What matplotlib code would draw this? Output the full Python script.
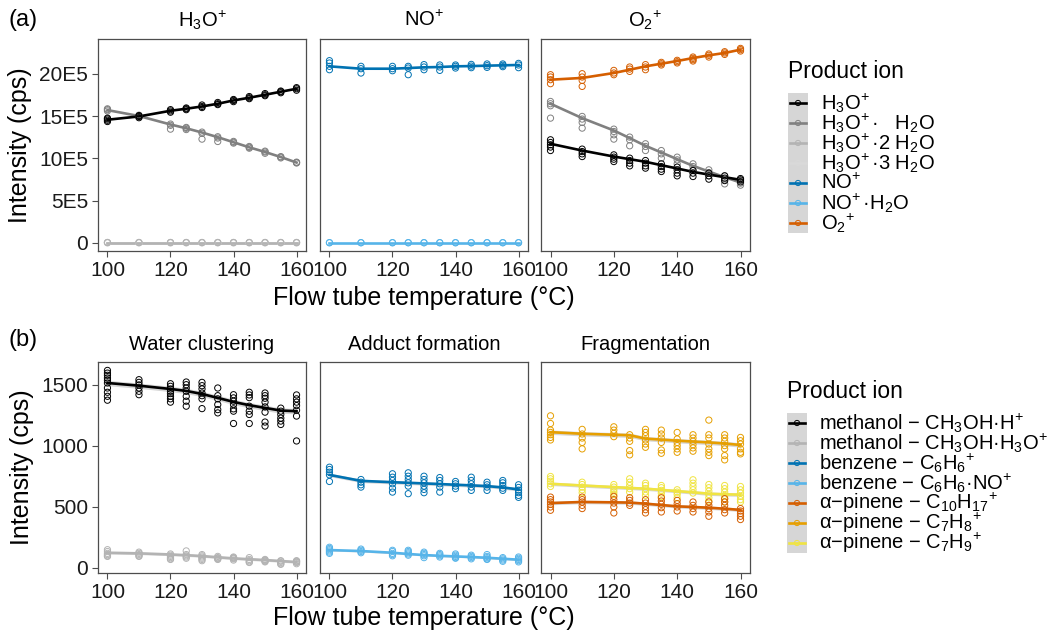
import matplotlib
matplotlib.use("Agg")
import matplotlib.pyplot as plt
from matplotlib.patches import Rectangle

plt.rcParams['font.family'] = ['Liberation Sans', 'DejaVu Sans']
plt.rcParams['mathtext.fontset'] = 'custom'
plt.rcParams['mathtext.rm'] = 'Liberation Sans'
plt.rcParams['mathtext.it'] = 'Liberation Sans:italic'
plt.rcParams['mathtext.bf'] = 'Liberation Sans:bold'

# flow tube temperatures (degC)
temps = [100, 110, 120, 125, 130, 135, 140, 145, 150, 155, 160]

# ---- (a) reagent ions, intensity in units of 1E5 cps ----
# H3O+ panel
a_h3o_pts = [[14.35, 14.5, 14.65, 14.75], [14.8, 14.95, 15.05], [15.45, 15.6, 15.75],
             [15.75, 15.86, 15.95], [16.0, 16.13, 16.3], [16.35, 16.45, 16.6],
             [16.7, 16.84, 16.95], [17.05, 17.16, 17.3], [17.4, 17.51, 17.65],
             [17.75, 17.87, 17.95], [18.05, 18.22, 18.35]]
a_h3o_fit = [14.56, 14.95, 15.62, 15.86, 16.13, 16.45, 16.84, 17.16, 17.51, 17.87, 18.22]
a_h3o1_pts = [[15.6, 15.75, 15.85], [14.9, 15.0, 15.1], [13.45, 13.9, 14.05],
              [13.4, 13.55, 13.65], [12.27, 12.95, 13.1], [11.99, 12.4, 12.55],
              [11.8, 11.9, 12.0], [11.2, 11.3, 11.4], [10.6, 10.75, 10.85],
              [10.05, 10.15, 10.2], [9.45, 9.5, 9.55]]
a_h3o1_fit = [15.7, 15.0, 14.0, 13.55, 13.05, 12.5, 11.9, 11.3, 10.75, 10.15, 9.5]
a_h3o2_pts = [[0.05, 0.06]] * 11
a_h3o2_fit = [0.05] * 11
a_h3o3_pts = [[0.01, 0.02]] * 11
a_h3o3_fit = [0.01] * 11

# NO+ panel
a_no_pts = [[21.54, 21.26, 20.87, 20.47], [20.87, 20.59, 20.08], [20.87, 20.59, 20.35],
            [20.87, 20.67, 19.88], [21.07, 20.79, 20.47], [21.03, 20.79, 20.39],
            [21.03, 20.87, 20.67], [21.1, 20.9, 20.71], [21.15, 20.95, 20.75],
            [21.15, 20.99, 20.83], [21.22, 21.03, 20.71]]
a_no_fit = [20.87, 20.59, 20.59, 20.67, 20.75, 20.79, 20.87, 20.9, 20.95, 20.99, 21.03]
a_noh2o_pts = [[0.02, 0.04]] * 11
a_noh2o_fit = [0.03] * 11

# O2+ panel
a_o2_pts = [[19.88, 19.61, 19.29, 18.82], [20.0, 19.61, 19.21, 18.5], [20.39, 20.08, 19.88],
            [20.79, 20.55, 20.27], [21.07, 20.79, 20.47], [21.34, 21.18, 21.03],
            [21.58, 21.42, 21.27], [21.97, 21.81, 21.66, 21.5], [22.33, 22.17, 21.97],
            [22.6, 22.45, 22.28], [22.99, 22.84, 22.68]]
a_o2_fit = [19.29, 19.5, 20.08, 20.47, 20.87, 21.18, 21.5, 21.85, 22.17, 22.45, 22.84]
a_o2_h3o1_pts = [[16.72, 16.45, 16.21, 14.75], [14.95, 14.64, 14.24, 13.57],
                 [13.45, 13.17, 12.78, 12.27], [12.51, 12.19, 11.48], [11.72, 11.4, 10.92],
                 [10.92, 10.53, 10.02], [10.14, 9.82, 9.35], [9.35, 9.03, 8.56],
                 [8.64, 8.32, 7.93], [7.93, 7.46, 6.98], [7.37, 7.07, 6.83]]
a_o2_h3o1_fit = [16.45, 14.75, 13.29, 12.39, 11.48, 10.69, 9.9, 9.11, 8.44, 7.77, 7.14]
a_o2_h3o_pts = [[12.19, 11.87, 11.6, 11.33, 10.92], [11.09, 10.8, 10.53, 10.21],
                [10.41, 10.14, 9.9, 9.62], [10.02, 9.74, 9.43, 9.11], [9.74, 9.43, 9.11, 8.84],
                [9.35, 9.03, 8.72, 8.44], [8.96, 8.64, 8.25, 7.93], [8.56, 8.25, 7.85],
                [8.25, 7.93, 7.54], [7.93, 7.66, 7.37], [7.61, 7.46, 7.22]]
a_o2_h3o_fit = [11.72, 10.92, 10.21, 9.9, 9.59, 9.19, 8.8, 8.4, 8.08, 7.77, 7.46]

# ---- (b) product ions, intensity in cps ----
b_meoh_pts = [[1619, 1597, 1579, 1557, 1538, 1516, 1475, 1440, 1407, 1375],
              [1543, 1521, 1500, 1475, 1448, 1420],
              [1510, 1489, 1467, 1448, 1429, 1407, 1386, 1359],
              [1524, 1502, 1475, 1448, 1407, 1367, 1326],
              [1521, 1494, 1467, 1434, 1412, 1386, 1306],
              [1475, 1412, 1386, 1339, 1298, 1271],
              [1420, 1394, 1367, 1339, 1304, 1285, 1184],
              [1440, 1418, 1396, 1326, 1285, 1258, 1184],
              [1434, 1412, 1391, 1359, 1320, 1277, 1196, 1163],
              [1310, 1285, 1258, 1228, 1204, 1176],
              [1418, 1386, 1359, 1331, 1293, 1245, 1041]]
b_meoh_fit = [1516, 1494, 1467, 1451, 1426, 1394, 1361, 1334, 1312, 1290, 1285]
b_meoh2_pts = [[150, 135, 120, 110, 100, 95], [130, 120, 110, 100, 95],
               [115, 105, 95, 85, 75, 70], [140, 110, 100, 90, 80],
               [110, 100, 90, 80, 70, 60], [95, 85, 80, 75, 70], [90, 85, 80, 75, 65],
               [85, 70, 60, 50, 45], [70, 65, 60, 55, 50], [60, 55, 45, 35, 30],
               [60, 55, 50, 45, 35]]
b_meoh2_fit = [125, 120, 111, 105, 98, 88, 79, 72, 65, 57, 49]

b_bz_pts = [[826, 807, 785, 763, 709], [725, 703, 682, 663],
            [772, 744, 717, 690, 654, 622], [780, 752, 725, 698, 671, 609],
            [752, 725, 698, 671, 644, 617], [741, 717, 690, 663, 622],
            [709, 690, 671, 650], [744, 717, 690, 663, 636], [703, 682, 663, 636],
            [717, 698, 676, 654, 636], [682, 660, 638, 617, 595, 579]]
b_bz_fit = [763, 714, 703, 698, 693, 688, 682, 677, 671, 660, 644]
b_bzno_pts = [[170, 160, 150, 140, 130, 120], [155, 145, 135, 125],
              [145, 135, 120, 110, 100], [145, 135, 125, 115, 105],
              [130, 120, 110, 100, 85], [120, 110, 100, 90], [115, 105, 95, 85, 80],
              [105, 95, 85, 75], [110, 95, 85, 75, 70], [85, 75, 65, 55],
              [90, 80, 70, 60, 50]]
b_bzno_fit = [147, 139, 125, 115, 106, 100, 95, 90, 84, 76, 68]

b_c10_pts = [[581, 560, 541, 522, 500, 473], [581, 560, 541, 513, 487],
             [587, 560, 532, 500, 451], [576, 554, 532, 513],
             [560, 532, 505, 478, 451], [576, 549, 522, 494, 459],
             [554, 527, 500, 467], [541, 513, 487, 459], [541, 513, 487, 459, 424],
             [568, 541, 513, 478, 451], [487, 467, 446, 424, 397]]
b_c10_fit = [532, 541, 538, 536, 527, 516, 505, 500, 494, 486, 476]
b_c7h8_pts = [[1247, 1184, 1130, 1111, 1092, 1070, 1049], [1136, 1098, 1065, 1029, 976],
              [1157, 1130, 1103, 1076], [1092, 1065, 1038, 962, 927],
              [1136, 1111, 1084, 1049, 1016, 989], [1130, 1098, 1065, 1029, 967, 940],
              [1111, 1057, 1029, 1003, 976, 948], [1092, 1065, 1038, 1011, 984, 957],
              [1212, 1092, 1065, 1016, 976, 948, 921],
              [1092, 1065, 1038, 1003, 976, 921, 886],
              [1070, 1043, 1016, 976, 948, 935]]
b_c7h8_fit = [1113, 1100, 1092, 1088, 1060, 1052, 1043, 1036, 1029, 1020, 1008]
b_c7h9_pts = [[750, 731, 711, 690, 668], [703, 684, 663, 641, 617],
              [684, 663, 641, 622, 603], [731, 703, 676, 650, 622],
              [695, 676, 650, 622, 595], [676, 658, 636, 614, 587],
              [641, 622, 603, 576], [723, 695, 668, 641, 614],
              [684, 658, 630, 603, 576, 549], [676, 650, 622, 595, 568, 541],
              [668, 641, 614, 587, 560, 541]]
b_c7h9_fit = [690, 676, 663, 656, 650, 640, 630, 620, 609, 604, 601]

# ribbon half-widths of the smooths in (b)
b_band = {'meoh': 22, 'meoh2': 10, 'bz': 14, 'bzno': 8, 'c10': 14, 'c7h8': 18, 'c7h9': 14}

col = {'black': '#000000', 'grey50': '#808080', 'grey70': '#b3b3b3', 'grey85': '#d9d9d9',
       'blue': '#0072B2', 'sky': '#56B4E9', 'verm': '#D55E00', 'orange': '#E69F00',
       'yellow': '#F0E442'}

# chemical formula labels (mathtext)
H3O = r'$\mathrm{H_3O^{\!+}}$'
NO = r'$\mathrm{NO^{\!+}}$'
O2 = r'$\mathrm{O_2{}^{\!+}}$'
H2O = r'$\mathrm{H_2O}$'

top_facets = [
    (H3O, [(a_h3o3_pts, a_h3o3_fit, col['grey85']),
           (a_h3o2_pts, a_h3o2_fit, col['grey70']),
           (a_h3o1_pts, a_h3o1_fit, col['grey50']),
           (a_h3o_pts, a_h3o_fit, col['black'])]),
    (NO, [(a_noh2o_pts, a_noh2o_fit, col['sky']),
          (a_no_pts, a_no_fit, col['blue'])]),
    (O2, [(a_o2_h3o1_pts, a_o2_h3o1_fit, col['grey50']),
          (a_o2_h3o_pts, a_o2_h3o_fit, col['black']),
          (a_o2_pts, a_o2_fit, col['verm'])]),
]
bot_facets = [
    ('Water clustering', [(b_meoh2_pts, b_meoh2_fit, col['grey70'], b_band['meoh2']),
                          (b_meoh_pts, b_meoh_fit, col['black'], b_band['meoh'])]),
    ('Adduct formation', [(b_bzno_pts, b_bzno_fit, col['sky'], b_band['bzno']),
                          (b_bz_pts, b_bz_fit, col['blue'], b_band['bz'])]),
    ('Fragmentation', [(b_c7h8_pts, b_c7h8_fit, col['orange'], b_band['c7h8']),
                       (b_c7h9_pts, b_c7h9_fit, col['yellow'], b_band['c7h9']),
                       (b_c10_pts, b_c10_fit, col['verm'], b_band['c10'])]),
]

top_legend = [(H3O, col['black']),
              (H3O + '·   ' + H2O, col['grey50']),
              (H3O + '·2 ' + H2O, col['grey70']),
              (H3O + '·3 ' + H2O, col['grey85']),
              (NO, col['blue']),
              (NO + '·' + H2O, col['sky']),
              (O2, col['verm'])]
bot_legend = [(r'methanol − $\mathrm{CH_3OH}$·$\mathrm{H^{\!+}}$', col['black']),
              (r'methanol − $\mathrm{CH_3OH}$·' + H3O, col['grey70']),
              (r'benzene − $\mathrm{C_6H_6{}^{\!+}}$', col['blue']),
              (r'benzene − $\mathrm{C_6H_6}$·' + NO, col['sky']),
              (r'α−pinene − $\mathrm{C_{10}H_{17}{}^{\!+}}$', col['verm']),
              (r'α−pinene − $\mathrm{C_7H_8{}^{\!+}}$', col['orange']),
              (r'α−pinene − $\mathrm{C_7H_9{}^{\!+}}$', col['yellow'])]

W, H = 1059, 635
fig = plt.figure(figsize=(W / 100, H / 100), dpi=100)
EDGE = '#4d4d4d'


def add_panel(x0, y0, x1, y1):
    ax = fig.add_axes([x0 / W, 1 - y1 / H, (x1 - x0) / W, (y1 - y0) / H])
    for sp in ax.spines.values():
        sp.set_color(EDGE)
        sp.set_linewidth(0.9)
    ax.tick_params(direction='out', length=4, width=0.8, color=EDGE,
                   labelsize=15, labelcolor='#1a1a1a', pad=3)
    ax.set_xlim(97, 163)
    ax.set_xticks([100, 120, 140, 160])
    return ax


def draw_series(ax, pts, fit, color, band=None):
    if band is not None:
        ax.fill_between(temps, [f - band for f in fit], [f + band for f in fit],
                        color='#999999', alpha=0.4, lw=0, zorder=2)
    ax.plot(temps, fit, color=color, lw=1.9, zorder=3)
    for t, reps in zip(temps, pts):
        ax.scatter([t] * len(reps), reps, s=20, facecolors='none', edgecolors=color,
                   linewidths=0.7, zorder=4)


xs = [(98, 306), (320, 528), (541, 750)]
for i, (title, series) in enumerate(top_facets):
    ax = add_panel(xs[i][0], 39, xs[i][1], 251)
    for pts, fit, c in series:
        draw_series(ax, pts, fit, c)
    ax.set_ylim(-0.95, 24.1)
    ax.set_yticks([0, 5, 10, 15, 20])
    ax.set_title(title, fontsize=14.5, pad=9)
    if i == 0:
        ax.set_yticklabels(['0', '5E5', '10E5', '15E5', '20E5'])
        ax.set_ylabel('Intensity (cps)', fontsize=18, labelpad=5)
    else:
        ax.tick_params(axis='y', left=False, labelleft=False)

for i, (title, series) in enumerate(bot_facets):
    ax = add_panel(xs[i][0], 362, xs[i][1], 573)
    for pts, fit, c, band in series:
        draw_series(ax, pts, fit, c, band)
    ax.set_ylim(-41, 1688)
    ax.set_yticks([0, 500, 1000, 1500])
    ax.set_title(title, fontsize=14.5, pad=9)
    if i == 0:
        ax.set_ylabel('Intensity (cps)', fontsize=18, labelpad=5)
    else:
        ax.tick_params(axis='y', left=False, labelleft=False)

fig.text(424 / W, 1 - 298 / H, 'Flow tube temperature (°C)', fontsize=18,
         ha='center', va='center')
fig.text(424 / W, 1 - 618 / H, 'Flow tube temperature (°C)', fontsize=18,
         ha='center', va='center')
fig.text(8 / W, 1 - 20 / H, '(a)', fontsize=17, ha='left', va='center')
fig.text(8 / W, 1 - 340 / H, '(b)', fontsize=17, ha='left', va='center')

# legends drawn in pixel space
lg = fig.add_axes([0, 0, 1, 1])
lg.set_xlim(0, W)
lg.set_ylim(H, 0)
lg.axis('off')


def draw_legend(entries, x, y_title, y_first, text_x):
    lg.text(x, y_title, 'Product ion', fontsize=16.5, ha='left', va='center')
    n = len(entries)
    lg.add_patch(Rectangle((x, y_first - 10), 20, 20 * n, facecolor='#d6d6d6',
                           edgecolor='none'))
    for k, (lab, c) in enumerate(entries):
        yy = y_first + 20 * k
        lg.plot([x + 2, x + 18], [yy, yy], color=c, lw=1.9)
        lg.scatter([x + 10], [yy], s=14, facecolors='none', edgecolors=c, linewidths=0.7)
        lg.text(text_x, yy, lab, fontsize=14.5, ha='left', va='center')


draw_legend(top_legend, 788, 71, 103, 821)
draw_legend(bot_legend, 787, 392, 423, 819)

fig.savefig('out.png', dpi=100)
